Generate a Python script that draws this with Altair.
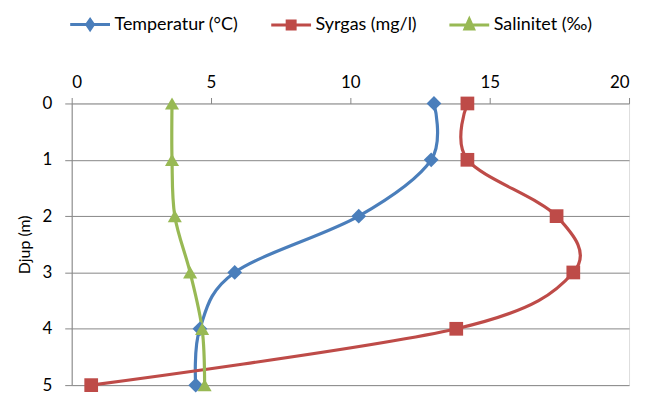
import altair as alt
import pandas as pd

depth = [0, 1, 2, 3, 4, 5]
series_names = ["Temperatur (°C)", "Syrgas (mg/l)", "Salinitet (‰)"]
temperatur = [13.0, 12.9, 10.3, 5.85, 4.6, 4.45]
syrgas = [14.2, 14.2, 17.4, 18.0, 13.8, 0.7]
salinitet = [3.6, 3.6, 3.7, 4.25, 4.68, 4.77]
x_ticks = [0, 5, 10, 15, 20]
y_ticks = [0, 1, 2, 3, 4, 5]

colors = ["#4A7EBB", "#BE4B48", "#98B954"]
marker_shapes = ["diamond", "square", "triangle-up"]
legend_paths = [
    "M-1,0L1,0M0,-0.25L0.17,0L0,0.25L-0.17,0Z",
    "M-1,0L1,0M-0.2,-0.2L0.2,-0.2L0.2,0.2L-0.2,0.2Z",
    "M-1,0L1,0M0,-0.3L0.22,0.2L-0.22,0.2Z",
]

rows = []
for name, vals in zip(series_names, [temperatur, syrgas, salinitet]):
    for d, v in zip(depth, vals):
        rows.append({"serie": name, "djup": d, "varde": v})
df = pd.DataFrame(rows)

FONT = "Lato"
GRID = "#868686"

x_enc = alt.X(
    "varde:Q",
    scale=alt.Scale(domain=[0, 20], nice=False),
    axis=alt.Axis(orient="top", values=x_ticks, title=None, grid=False, domain=False,
                  tickSize=6, tickColor=GRID, labelPadding=6, labelFontSize=17,
                  labelFont=FONT, labelColor="#000000", format="d"),
)
y_enc = alt.Y(
    "djup:Q",
    scale=alt.Scale(domain=[0, 5], reverse=True, nice=False),
    axis=alt.Axis(values=y_ticks, title="Djup (m)", grid=True, gridColor=GRID,
                  domain=True, domainColor=GRID, tickSize=7, tickColor=GRID,
                  labelPadding=13, labelFontSize=17, labelFont=FONT, labelColor="#000000",
                  format="d",
                  titleFont=FONT, titleFontSize=16, titleFontWeight="normal",
                  titleColor="#000000", titlePadding=10),
)

# reversed order keeps this (legend-less) scale from absorbing the legend below
color_scale = alt.Scale(domain=series_names[::-1], range=colors[::-1])

lines = alt.Chart(df).mark_line(interpolate="cardinal", strokeWidth=3.2).encode(
    x=x_enc,
    y=y_enc,
    color=alt.Color("serie:N", scale=color_scale, legend=None),
    order=alt.Order("djup:Q"),
    detail="serie:N",
)

marker_sizes = [220, 190, 200]
markers = []
for name, shp, sz in zip(series_names, marker_shapes, marker_sizes):
    markers.append(
        alt.Chart(df).transform_filter(alt.datum.serie == name)
        .mark_point(filled=True, shape=shp, size=sz, opacity=1, strokeWidth=0)
        .encode(x="varde:Q", y="djup:Q",
                color=alt.Color("serie:N", scale=color_scale, legend=None))
    )

leg = alt.Legend(orient="none", legendX=-3, legendY=-101, direction="horizontal", title=None,
                 symbolSize=1600, symbolStrokeWidth=3, symbolOpacity=1,
                 labelFont=FONT, labelFontSize=18, labelColor="#000000",
                 columnPadding=26, labelOffset=3, padding=0)

legend_layer = alt.Chart(df).transform_filter(alt.datum.djup == 0).mark_point(
    filled=True, size=1, opacity=1
).encode(
    x="varde:Q",
    y="djup:Q",
    fill=alt.Fill("serie:N", scale=alt.Scale(domain=series_names, range=colors), legend=leg),
    stroke=alt.Stroke("serie:N", scale=alt.Scale(domain=series_names, range=colors), legend=leg),
    shape=alt.Shape("serie:N", scale=alt.Scale(domain=series_names, range=legend_paths), legend=leg),
)

chart = alt.layer(lines, *markers, legend_layer).properties(
    width=560, height=283,
    autosize=alt.AutoSizeParams(type="none"),
    padding={"left": 64, "top": 95, "right": 8, "bottom": 10},
).configure_view(stroke=None).configure(background="white")

chart.save("out.html", embed_options={"renderer": "svg", "actions": False})
